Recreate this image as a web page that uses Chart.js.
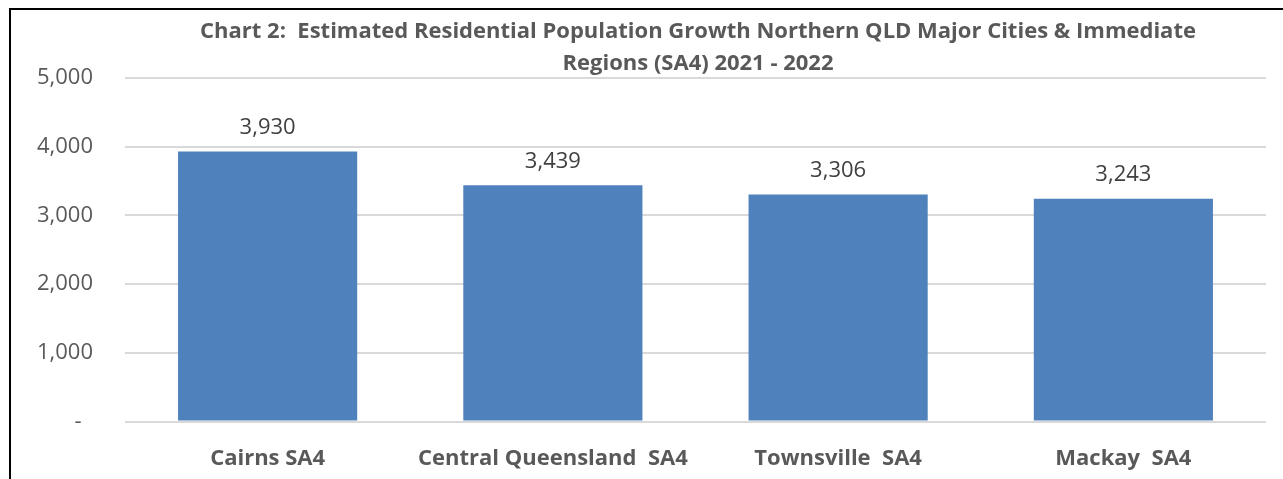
<!DOCTYPE html>
<html>
<head>
<meta charset="utf-8">
<script src="https://cdn.jsdelivr.net/npm/chart.js@4.4.1/dist/chart.umd.min.js"></script>
<style>
  html, body { margin: 0; padding: 0; background: #fff; overflow: hidden; }
  #frame {
    position: absolute;
    left: 9px;
    top: 8px;
    width: 1374px;
    height: 480px;
    border-left: 2px solid #000;
    border-top: 2px solid #000;
  }
  canvas { display: block; }
</style>
</head>
<body>
<div id="frame"><canvas id="popChart" width="1374" height="469"></canvas></div>
<script>
const regions = ["Cairns SA4", "Central Queensland  SA4", "Townsville  SA4", "Mackay  SA4"];
const growth = [3930, 3439, 3306, 3243];
const titleLines = [
  "Chart 2:  Estimated Residential Population Growth Northern QLD Major Cities & Immediate",
  "Regions (SA4) 2021 - 2022"
];
const yTicks = [0, 1000, 2000, 3000, 4000, 5000];

const fontFamily = "'Open Sans', sans-serif";
const fmt = v => v.toLocaleString("en-US");

// Excel style labels on top of each bar
const valueLabels = {
  id: "valueLabels",
  afterDatasetsDraw(chart) {
    const ctx = chart.ctx;
    const meta = chart.getDatasetMeta(0);
    ctx.save();
    ctx.font = "22px " + fontFamily;
    ctx.fillStyle = "#404040";
    ctx.textAlign = "center";
    ctx.textBaseline = "bottom";
    meta.data.forEach((bar, i) => {
      ctx.fillText(fmt(growth[i]), bar.x, bar.y - 13);
    });
    ctx.restore();
  }
};

new Chart(document.getElementById("popChart"), {
  type: "bar",
  data: {
    labels: regions,
    datasets: [
      {
        data: growth,
        backgroundColor: "#4f81bd",
        borderWidth: 0,
        categoryPercentage: 1,
        barPercentage: 0.628
      }
    ]
  },
  options: {
    responsive: false,
    animation: false,
    layout: {
      padding: { left: 0, right: 0, top: 0, bottom: -9 }
    },
    plugins: {
      legend: { display: false },
      tooltip: { enabled: false },
      title: {
        display: true,
        text: titleLines,
        color: "#595959",
        font: { family: fontFamily, size: 22, weight: "bold", lineHeight: 32 / 22 },
        padding: { top: 6, bottom: -2 }
      }
    },
    scales: {
      x: {
        grid: { display: false },
        border: { display: false },
        ticks: {
          color: "#595959",
          padding: 16,
          maxRotation: 0,
          font: { family: fontFamily, size: 22, weight: "bold" }
        }
      },
      y: {
        min: 0,
        max: 5000,
        afterBuildTicks: scale => {
          scale.ticks = yTicks.map(v => ({ value: v }));
        },
        afterFit: scale => {
          scale.width = 114;
        },
        grid: { color: "#d9d9d9", lineWidth: 2, drawTicks: false },
        border: { display: false },
        ticks: {
          color: "#595959",
          padding: 32,
          font: { family: fontFamily, size: 22 },
          callback: v => (v === 0 ? "-  " : fmt(v))
        }
      },
      // empty axis on the right, only keeps room so the title stays centred
      yRight: {
        position: "right",
        grid: { display: false },
        border: { display: false },
        ticks: { display: false },
        afterFit: scale => {
          scale.width = 119;
        }
      }
    }
  },
  plugins: [valueLabels]
});
</script>
</body>
</html>
